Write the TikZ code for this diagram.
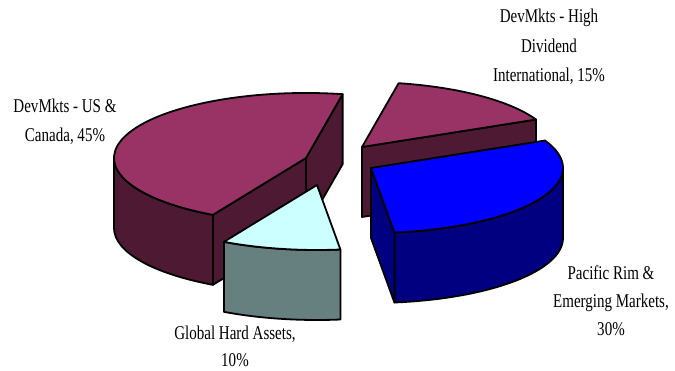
\documentclass[tikz,border=0pt]{standalone}
\usepackage{fontspec}
\newfontfamily\lblfont[FakeStretch=0.77]{Liberation Serif}
\usetikzlibrary{calc}

\definecolor{plumtop}{RGB}{153,51,102}
\definecolor{plumside}{RGB}{77,25,51}
\definecolor{bluetop}{RGB}{0,0,255}
\definecolor{blueside}{RGB}{0,0,128}
\definecolor{cyantop}{RGB}{204,255,255}
\definecolor{cyanside}{RGB}{102,128,128}

\def\dh{70pt}

\begin{document}
\begin{tikzpicture}[x=1pt, y=1pt,
  edge/.style={draw=black, line width=1.8pt, line join=round},
  lbl/.style={font=\lblfont\fontsize{19.5}{29.5}\selectfont, align=center, inner sep=0pt, anchor=base},
  rim/.style={x radius=192pt, y radius=65pt}]
\useasboundingbox (0,0) rectangle (675,371);

% centres of the four (exploded) slices
\coordinate (cUS) at (306,213);
\coordinate (cHD) at (362,224);
\coordinate (cPR) at (371,203);
\coordinate (cGH) at (317,186);

% --- DevMkts - High Dividend International, 15% (25 to 79 deg)
\filldraw[edge, fill=plumside] (cHD) -- ($(cHD)+(25:192pt and 65pt)$) -- ++(0,-\dh) -- ($(cHD)+(0,-\dh)$) -- cycle;
\filldraw[edge, fill=plumtop] (cHD) -- ($(cHD)+(25:192pt and 65pt)$) arc[start angle=25, end angle=79, rim] -- cycle;

% --- DevMkts - US & Canada, 45% (79 to 241 deg)
\filldraw[edge, fill=plumside] ($(cUS)+(180:192pt and 65pt)$) arc[start angle=180, end angle=241, rim] -- ++(0,-\dh) arc[start angle=241, end angle=180, rim] -- cycle;
\filldraw[edge, fill=plumside] (cUS) -- ($(cUS)+(241:192pt and 65pt)$) -- ++(0,-\dh) -- ($(cUS)+(0,-\dh)$) -- cycle;
\filldraw[edge, fill=plumside] (cUS) -- ($(cUS)+(79:192pt and 65pt)$) -- ++(0,-\dh) -- ($(cUS)+(0,-\dh)$) -- cycle;
\filldraw[edge, fill=plumtop] (cUS) -- ($(cUS)+(79:192pt and 65pt)$) arc[start angle=79, end angle=241, rim] -- cycle;

% --- Global Hard Assets, 10% (241 to 277 deg)
\filldraw[edge, fill=cyanside] ($(cGH)+(241:192pt and 65pt)$) arc[start angle=241, end angle=277, rim] -- ++(0,-\dh) arc[start angle=277, end angle=241, rim] -- cycle;
\filldraw[edge, fill=cyantop] (cGH) -- ($(cGH)+(241:192pt and 65pt)$) arc[start angle=241, end angle=277, rim] -- cycle;

% --- Pacific Rim & Emerging Markets, 30% (-83 to 25 deg)
\filldraw[edge, fill=blueside] ($(cPR)+(-83:192pt and 65pt)$) arc[start angle=-83, end angle=0, rim] -- ++(0,-\dh) arc[start angle=0, end angle=-83, rim] -- cycle;
\filldraw[edge, fill=blueside] (cPR) -- ($(cPR)+(-83:192pt and 65pt)$) -- ++(0,-\dh) -- ($(cPR)+(0,-\dh)$) -- cycle;
\filldraw[edge, fill=bluetop] (cPR) -- ($(cPR)+(-83:192pt and 65pt)$) arc[start angle=-83, end angle=25, rim] -- cycle;

% labels (anchored at the baseline of their last line)
\node[lbl] (tUS) at (65,229) {DevMkts - US \&\\Canada, 45\%};
\node[lbl] (tHD) at (549,289) {DevMkts - High\\Dividend\\International, 15\%};
\node[lbl, font=\lblfont\fontsize{19.5}{28}\selectfont] (tPR) at (611,35) {Pacific Rim \&\\Emerging Markets,\\30\%};
\node[lbl, font=\lblfont\fontsize{19.5}{27}\selectfont] (tGH) at (235,4) {Global Hard Assets,\\10\%};
\end{tikzpicture}
\end{document}
